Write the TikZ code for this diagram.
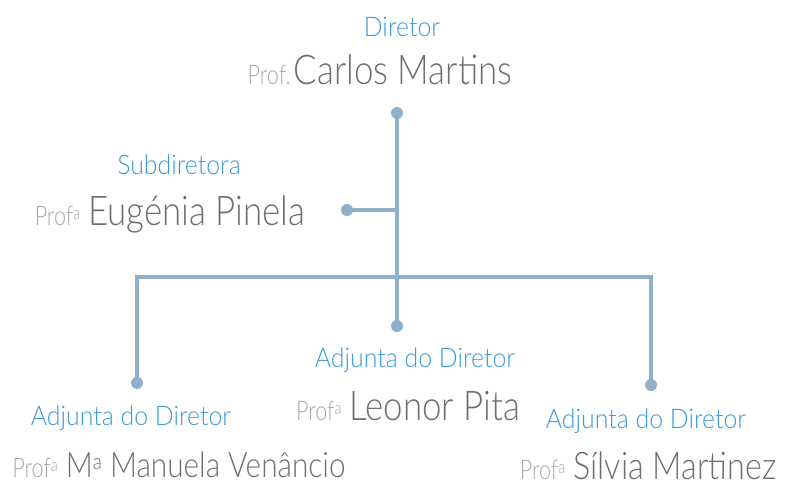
\documentclass[tikz,border=0pt]{standalone}
\usepackage{fontspec}
\setmainfont{Lato}[UprightFont=* Light]
\newfontfamily\cargofont{Lato}[UprightFont=* Light, FakeStretch=0.92]
\newfontfamily\nomefont{Lato}[UprightFont=* Light, FakeStretch=0.85]
\newfontfamily\proffont{Lato}[UprightFont=* Light, FakeStretch=0.8]
\definecolor{cargo}{HTML}{3C9AD8}
\definecolor{nome}{HTML}{6E6E6E}
\definecolor{titulo}{HTML}{A8A8A8}
\definecolor{linha}{HTML}{8FAFCA}
% titulo (Prof.) e nome de cada pessoa
\newcommand{\prof}[1]{{\proffont\fontsize{27}{27}\selectfont\color{titulo}#1}}
\newcommand{\profa}{\prof{Prof\raisebox{6pt}{\fontsize{18}{18}\selectfont a}}\hspace{8pt}}
\newcommand{\pessoa}[2]{{\nomefont\fontsize{#1}{#1}\selectfont\color{nome}#2}}
\tikzset{
    cargo/.style={anchor=base, inner sep=0pt, text=cargo, font=\cargofont\fontsize{27}{27}\selectfont},
    pessoa/.style={anchor=base, inner sep=0pt, text depth=0pt},
    ponto/.style={circle, fill=linha, inner sep=0pt, minimum size=12pt},
    ramo/.style={draw=linha, line width=4pt}
}
\begin{document}
\begin{tikzpicture}[x=1pt, y=-1pt]
    % area do desenho
    \useasboundingbox (0,0) rectangle (787,484);

    % Diretor
    \node[cargo] (dir) at (402,37) {Diretor};
    \node[pessoa] (dirnome) at (380,85) {\prof{Prof.}\hspace{3pt}\pessoa{41}{Carlos Martins}};

    % Subdiretora
    \node[cargo] (sub) at (179,175) {Subdiretora};
    \node[pessoa] (subnome) at (170,225) {\profa\pessoa{41}{Eugénia Pinela}};

    % Adjuntas
    \node[cargo] (adj1) at (131,425) {Adjunta do Diretor};
    \node[pessoa] (adj1nome) at (179,477) {\profa\pessoa{35}{M\raisebox{8pt}{\fontsize{22}{22}\selectfont a} Manuela Venâncio}};
    \node[cargo] (adj2) at (415,367) {Adjunta do Diretor};
    \node[pessoa] (adj2nome) at (408,420) {\profa\pessoa{41}{Leonor Pita}};
    \node[cargo] (adj3) at (646,428) {Adjunta do Diretor};
    \node[pessoa] (adj3nome) at (648,479) {\profa\pessoa{38}{Sílvia Martinez}};

    % pontos e cruzamentos
    \node[ponto] (pdir) at (397,113) {};
    \node[ponto] (psub) at (347,210) {};
    \node[ponto] (padj1) at (137,383) {};
    \node[ponto] (padj2) at (397,326) {};
    \node[ponto] (padj3) at (651,385) {};
    \coordinate (csub) at (397,210);
    \coordinate (cmeio) at (397,277);

    % ligacoes
    \draw[ramo] (pdir.center) -- (padj2.center);
    \draw[ramo] (psub.center) -- (csub);
    \draw[ramo] (padj1.center) |- (cmeio) -| (padj3.center);
\end{tikzpicture}
\end{document}
